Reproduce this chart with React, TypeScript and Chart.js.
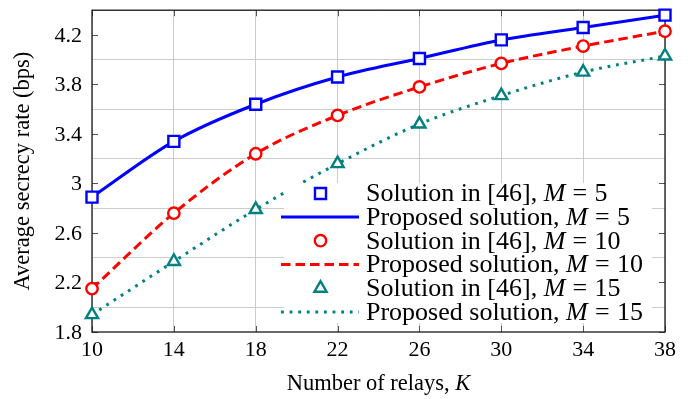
import { useEffect, useRef } from 'react';
import { Chart, registerables } from 'chart.js';

Chart.register(...registerables);

// Number of relays K (x axis)
const relays = [10, 14, 18, 22, 26, 30, 34, 38];
// Average secrecy rate (bps) for each antenna count M
const rateM5 = [2.89, 3.34, 3.64, 3.86, 4.01, 4.16, 4.26, 4.36];
const rateM10 = [2.15, 2.76, 3.24, 3.55, 3.78, 3.97, 4.11, 4.23];
const rateM15 = [1.94, 2.37, 2.79, 3.16, 3.48, 3.71, 3.90, 4.03];
// Axis ticks
const xTicks = [10, 14, 18, 22, 26, 30, 34, 38];
const yTicks = [1.8, 2.2, 2.6, 3, 3.4, 3.8, 4.2];
const yTickLabels = ['1.8', '2.2', '2.6', '3', '3.4', '3.8', '4.2'];
const mValues = ['5', '10', '15'];

const BLUE = '#0000ff';
const RED = '#ff0000';
const TEAL = '#008080';
const SERIF = '"Liberation Serif", "Times New Roman", serif';

// a run of text; gap = extra space (in em) placed before the run
type Seg = { t: string; it?: boolean; gap?: number };

function drawSegs(ctx: CanvasRenderingContext2D, segs: Seg[], x: number, y: number, size: number) {
  let cx = x;
  for (const s of segs) {
    cx += (s.gap || 0) * size;
    ctx.font = `${s.it ? 'italic ' : ''}${size}px ${SERIF}`;
    ctx.fillText(s.t, cx, y);
    cx += ctx.measureText(s.t).width;
  }
  return cx - x;
}

function segsWidth(ctx: CanvasRenderingContext2D, segs: Seg[], size: number) {
  let w = 0;
  for (const s of segs) {
    w += (s.gap || 0) * size;
    ctx.font = `${s.it ? 'italic ' : ''}${size}px ${SERIF}`;
    w += ctx.measureText(s.t).width;
  }
  return w;
}

// same geometry as Chart.js point styles
function drawMarker(ctx: CanvasRenderingContext2D, style: string, r: number, x: number, y: number) {
  ctx.beginPath();
  if (style === 'rect') {
    const s = Math.SQRT1_2 * r;
    ctx.rect(x - s, y - s, 2 * s, 2 * s);
  } else if (style === 'circle') {
    ctx.arc(x, y, r, 0, Math.PI * 2);
  } else {
    let a = 0;
    ctx.moveTo(x + Math.sin(a) * r, y - Math.cos(a) * r);
    a += (2 * Math.PI) / 3;
    ctx.lineTo(x + Math.sin(a) * r, y - Math.cos(a) * r);
    a += (2 * Math.PI) / 3;
    ctx.lineTo(x + Math.sin(a) * r, y - Math.cos(a) * r);
  }
  ctx.closePath();
  ctx.fill();
  ctx.stroke();
}

const framePlugin = {
  id: 'frameAndLegend',
  beforeDatasetsDraw(chart: any) {
    const ctx: CanvasRenderingContext2D = chart.ctx;
    const { left, right, top, bottom } = chart.chartArea;
    const xs = chart.scales.x;
    const ys = chart.scales.y;
    ctx.save();
    // inward ticks on all four sides
    ctx.strokeStyle = '#555555';
    ctx.lineWidth = 1;
    const tl = 6;
    for (const v of xTicks) {
      const px = Math.round(xs.getPixelForValue(v)) + 0.5;
      ctx.beginPath();
      ctx.moveTo(px, bottom);
      ctx.lineTo(px, bottom - tl);
      ctx.moveTo(px, top);
      ctx.lineTo(px, top + tl);
      ctx.stroke();
    }
    for (const v of yTicks) {
      const py = Math.round(ys.getPixelForValue(v)) + 0.5;
      ctx.beginPath();
      ctx.moveTo(left, py);
      ctx.lineTo(left + tl, py);
      ctx.moveTo(right, py);
      ctx.lineTo(right - tl, py);
      ctx.stroke();
    }
    // frame
    ctx.strokeStyle = '#1a1a1a';
    ctx.lineWidth = 1.3;
    ctx.strokeRect(left, top, right - left, bottom - top);
    ctx.restore();
  },
  afterDraw(chart: any) {
    const ctx: CanvasRenderingContext2D = chart.ctx;
    const { left, right, top, bottom } = chart.chartArea;
    const xs = chart.scales.x;
    const ys = chart.scales.y;
    ctx.save();

    // legend box (white, no border)
    const lgLeft = 284, lgTop = 183, lgRight = 652, lgBottom = 323;
    ctx.fillStyle = '#ffffff';
    ctx.fillRect(lgLeft, lgTop, lgRight - lgLeft, lgBottom - lgTop);

    // tick labels
    ctx.fillStyle = '#000000';
    ctx.font = `22px ${SERIF}`;
    ctx.textBaseline = 'middle';
    ctx.textAlign = 'right';
    yTicks.forEach((v, i) => {
      ctx.fillText(yTickLabels[i], left - 10, ys.getPixelForValue(v) + 1);
    });
    ctx.textAlign = 'center';
    xTicks.forEach((v) => {
      ctx.fillText(String(v), xs.getPixelForValue(v), bottom + 18);
    });

    // axis titles
    ctx.textAlign = 'left';
    const xTitle: Seg[] = [{ t: 'Number of relays, ' }, { t: 'K', it: true }];
    const xw = segsWidth(ctx, xTitle, 22.5);
    drawSegs(ctx, xTitle, (left + right) / 2 - xw / 2, 384, 22.5);

    ctx.save();
    ctx.translate(23, (top + bottom) / 2);
    ctx.rotate(-Math.PI / 2);
    ctx.textAlign = 'center';
    ctx.font = `22.5px ${SERIF}`;
    ctx.fillText('Average secrecy rate (bps)', 0, 0);
    ctx.restore();

    // legend entries
    const rowY = [193.5, 217, 240.7, 264.4, 288.2, 312];
    const markX = 320.5;
    const lineX0 = 281, lineX1 = 359;
    const textX = 366;
    const ds = chart.data.datasets;
    for (let i = 0; i < 6; i++) {
      const d = ds[i];
      const y = rowY[i];
      if (d.showLine === false) {
        ctx.save();
        ctx.lineWidth = d.pointBorderWidth;
        ctx.strokeStyle = d.pointBorderColor;
        ctx.fillStyle = '#ffffff';
        drawMarker(ctx, d.pointStyle, d.pointRadius, markX, y);
        ctx.restore();
      } else {
        ctx.save();
        ctx.strokeStyle = d.borderColor;
        ctx.lineWidth = d.borderWidth;
        ctx.lineCap = 'butt';
        ctx.setLineDash(d.borderDash || []);
        ctx.beginPath();
        ctx.moveTo(lineX0, y);
        ctx.lineTo(lineX1, y);
        ctx.stroke();
        ctx.restore();
      }
      ctx.fillStyle = '#000000';
      ctx.textBaseline = 'middle';
      ctx.textAlign = 'left';
      const m = mValues[Math.floor(i / 2)];
      const head = d.showLine === false ? 'Solution in [46], ' : 'Proposed solution, ';
      drawSegs(
        ctx,
        [{ t: head }, { t: 'M', it: true }, { t: '=', gap: 0.28 }, { t: m, gap: 0.28 }],
        textX,
        y + 1,
        26,
      );
    }
    ctx.restore();
  },
};

function pts(ys: number[]) {
  return relays.map((k, i) => ({ x: k, y: ys[i] }));
}

export default function App() {
  const ref = useRef<HTMLCanvasElement>(null);

  useEffect(() => {
    if (!ref.current) return;
    const markerBase = {
      showLine: false,
      clip: false,
      backgroundColor: '#ffffff',
      pointBackgroundColor: '#ffffff',
      borderWidth: 2.4,
      pointBorderWidth: 2.4,
      pointHoverRadius: 0,
    };
    const lineBase = {
      showLine: true,
      pointRadius: 0,
      pointHoverRadius: 0,
      borderWidth: 3,
      fill: false,
      cubicInterpolationMode: 'monotone' as const,
      borderCapStyle: 'butt' as const,
    };
    const chart = new Chart(ref.current, {
      type: 'scatter',
      data: {
        datasets: [
          { ...markerBase, label: 'Solution in [46], M = 5', data: pts(rateM5), borderColor: BLUE, pointBorderColor: BLUE, pointStyle: 'rect', pointRadius: 7.8, order: 0 },
          { ...lineBase, label: 'Proposed solution, M = 5', data: pts(rateM5), borderColor: BLUE, order: 3 },
          { ...markerBase, label: 'Solution in [46], M = 10', data: pts(rateM10), borderColor: RED, pointBorderColor: RED, pointStyle: 'circle', pointRadius: 5.7, order: 1 },
          { ...lineBase, label: 'Proposed solution, M = 10', data: pts(rateM10), borderColor: RED, borderDash: [9.5, 5], order: 4 },
          { ...markerBase, label: 'Solution in [46], M = 15', data: pts(rateM15), borderColor: TEAL, pointBorderColor: TEAL, pointStyle: 'triangle', pointRadius: 7, order: 2 },
          { ...lineBase, label: 'Proposed solution, M = 15', data: pts(rateM15), borderColor: TEAL, borderDash: [2.8, 5.8], order: 5 },
        ] as any,
      },
      options: {
        animation: false,
        responsive: false,
        events: [],
        layout: { padding: { top: 3, right: 34, left: 0, bottom: 0 } },
        plugins: {
          legend: { display: false },
          tooltip: { enabled: false },
        },
        scales: {
          x: {
            type: 'linear',
            min: 10,
            max: 38,
            ticks: { stepSize: 4, display: false },
            grid: { color: '#cccccc', lineWidth: 1, drawTicks: false },
            border: { display: false },
            afterFit: (s: any) => { s.height = 67; },
          },
          y: {
            type: 'linear',
            min: 1.8,
            max: 4.4,
            ticks: { stepSize: 0.4, display: false, includeBounds: false },
            grid: { color: '#cccccc', lineWidth: 1, drawTicks: false },
            border: { display: false },
            afterFit: (s: any) => { s.width = 92; },
          },
        },
      },
      plugins: [framePlugin],
    });
    return () => chart.destroy();
  }, []);

  return (
    <div style={{ position: 'fixed', left: 0, top: 0, width: 699, height: 399, background: '#ffffff' }}>
      <canvas ref={ref} width={699} height={399} style={{ display: 'block' }} />
    </div>
  );
}
